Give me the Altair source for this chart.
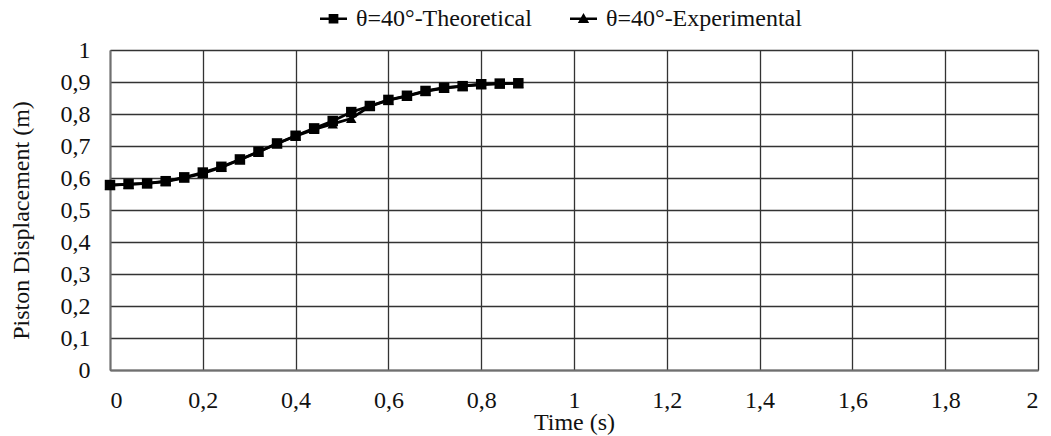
import altair as alt
import pandas as pd

time_s = [0.00, 0.04, 0.08, 0.12, 0.16, 0.20, 0.24, 0.28, 0.32, 0.36, 0.40, 0.44,
          0.48, 0.52, 0.56, 0.60, 0.64, 0.68, 0.72, 0.76, 0.80, 0.84, 0.88]
theoretical = [0.578, 0.581, 0.583, 0.590, 0.602, 0.617, 0.635, 0.658, 0.682, 0.708, 0.732, 0.755,
               0.778, 0.806, 0.825, 0.844, 0.857, 0.872, 0.882, 0.887, 0.893, 0.895, 0.896]
experimental = [0.578, 0.580, 0.583, 0.589, 0.600, 0.614, 0.633, 0.657, 0.681, 0.707, 0.731, 0.752,
                0.769, 0.786, 0.824, 0.843, 0.856, 0.871, 0.881, 0.887, 0.892, 0.895, 0.896]
series_names = ["θ=40°-Theoretical", "θ=40°-Experimental"]
x_ticks = [0, 0.2, 0.4, 0.6, 0.8, 1, 1.2, 1.4, 1.6, 1.8, 2]
y_ticks = [0, 0.1, 0.2, 0.3, 0.4, 0.5, 0.6, 0.7, 0.8, 0.9, 1]

df_theo = pd.DataFrame({"t": time_s, "v": theoretical, "s": series_names[0]})
df_exp = pd.DataFrame({"t": time_s, "v": experimental, "s": series_names[1]})
df = pd.concat([df_exp, df_theo], ignore_index=True)

FONT = "Liberation Serif"
FS = 24
label_expr = "replace(format(datum.value, '~g'), '.', ',')"

sq_path = "M-1,-0.09H1V0.09H-1Z M-0.36,-0.36H0.36V0.36H-0.36Z"
tri_path = "M-1,-0.09H1V0.09H-1Z M0,-0.42L0.42,0.32H-0.42Z"

x_enc = alt.X("t:Q", scale=alt.Scale(domain=[0, 2], nice=False),
              axis=alt.Axis(values=x_ticks, labelExpr=label_expr, title="Time (s)",
                            titleY=59, titleBaseline="alphabetic", labelPadding=18))
y_enc = alt.Y("v:Q", scale=alt.Scale(domain=[0, 1], nice=False),
              axis=alt.Axis(values=y_ticks, labelExpr=label_expr, title="Piston Displacement (m)",
                            titleX=-82, titleY=170, titleBaseline="alphabetic", titleAngle=270,
                            labelPadding=20))

lines = alt.Chart(df).mark_line(color="black", strokeWidth=2.8).encode(
    x=x_enc, y=y_enc, detail="s:N")

pts_exp = alt.Chart(df_exp).mark_point(filled=True, color="black", opacity=1, size=110).encode(
    x=x_enc, y=y_enc, shape=alt.value("triangle-up"))
pts_theo = alt.Chart(df_theo).mark_point(filled=True, color="black", opacity=1, size=110).encode(
    x=x_enc, y=y_enc, shape=alt.value("square"))

legend_layer = alt.Chart(df).mark_point(filled=True, color="black", opacity=1).encode(
    shape=alt.Shape("s:N", scale=alt.Scale(domain=series_names, range=[sq_path, tri_path]),
                    legend=alt.Legend(title=None, orient="none", legendX=210, legendY=-45,
                                      direction="horizontal", symbolSize=729,
                                      symbolFillColor="black", symbolStrokeWidth=0,
                                      symbolOpacity=1, labelLimit=400,
                                      labelFont=FONT, labelFontSize=FS, labelColor="#111",
                                      labelOffset=9, columnPadding=38))
).transform_filter("false")

chart = alt.layer(lines, pts_exp, pts_theo, legend_layer).properties(
    width=928, height=320,
    autosize=alt.AutoSizeParams(type="none"),
    padding={"left": 102, "top": 42, "right": 5, "bottom": 66},
    background="white",
).configure_view(stroke=None).configure_axis(
    grid=True, gridColor="#333333", gridWidth=1.3, gridOpacity=1,
    domainColor="#707070", domainWidth=2, ticks=False,
    labelFont=FONT, labelFontSize=FS, labelColor="#111",
    titleFont=FONT, titleFontSize=FS, titleColor="#111", titleFontWeight="normal",
)

chart.save("out.html", embed_options={"renderer": "svg", "actions": False})
